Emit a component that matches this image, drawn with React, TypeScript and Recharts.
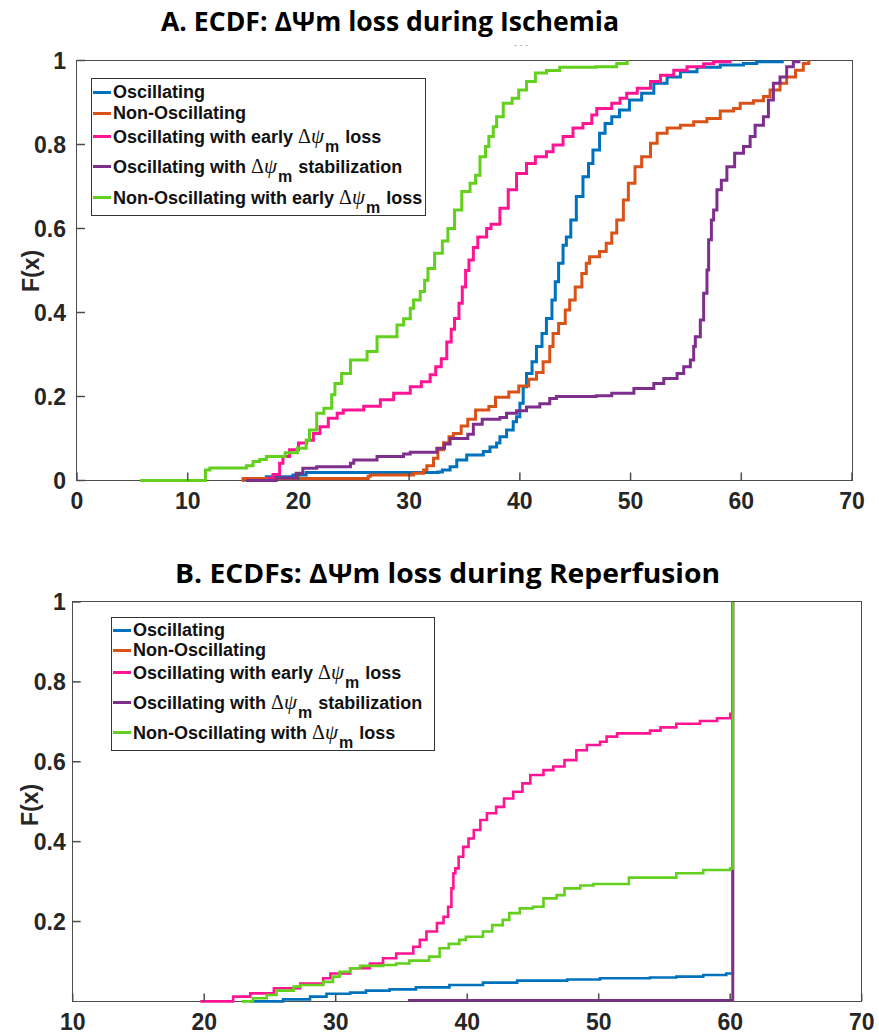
import React from 'react';
import { LineChart, Line, XAxis, YAxis } from 'recharts';

// colours used by the five groups
const BLUE = '#0072BD';
const ORANGE = '#D95319';
const PINK = '#FF1493';
const PURPLE = '#7E2F8E';
const GREEN = '#62D01C';
const AXIS = '#4d4d4d';

// ---- A. ischemia ECDFs (x = time, F = cumulative fraction) ----
const oscillatingA = [
  [15.2, 0], [17.1, 0.009], [19.5, 0.013], [20.7, 0.019], [32.6, 0.02], [33.0, 0.025], [33.7, 0.033],
  [34.3, 0.049], [35.2, 0.061], [36.7, 0.069], [37.3, 0.08], [37.9, 0.089], [38.2, 0.104], [38.8, 0.12],
  [39.4, 0.14], [39.7, 0.152], [40.0, 0.184], [40.3, 0.223], [40.6, 0.255], [41.1, 0.283], [41.5, 0.319],
  [42.0, 0.35], [42.4, 0.386], [42.9, 0.43], [43.2, 0.473], [43.5, 0.517], [43.9, 0.56], [44.2, 0.58],
  [44.6, 0.62], [45.1, 0.676], [45.7, 0.723], [46.2, 0.755], [46.6, 0.787], [47.2, 0.827], [47.7, 0.85],
  [48.3, 0.866], [49.0, 0.882], [49.9, 0.906], [51.0, 0.922], [52.1, 0.946], [53.3, 0.961], [54.5, 0.973],
  [56.0, 0.984], [58.1, 0.989], [60.2, 0.993], [61.4, 0.997], [63.7, 1],
];
const nonOscillatingA = [
  [14.9, 0], [15.0, 0.005], [26.3, 0.01], [26.5, 0.013], [30.4, 0.017], [31.3, 0.025], [31.6, 0.035],
  [32.2, 0.053], [32.6, 0.073], [33.1, 0.09], [33.6, 0.104], [34.0, 0.112], [34.7, 0.13], [35.3, 0.146],
  [36.0, 0.168], [37.2, 0.176], [37.8, 0.198], [39.0, 0.211], [39.9, 0.225], [40.8, 0.241], [41.5, 0.257],
  [42.1, 0.283], [42.7, 0.319], [43.0, 0.35], [43.5, 0.374], [44.1, 0.406], [44.5, 0.43], [45.0, 0.461],
  [45.6, 0.493], [46.0, 0.517], [46.3, 0.533], [47.2, 0.545], [47.8, 0.565], [48.3, 0.589], [48.75, 0.62],
  [49.35, 0.668], [49.8, 0.708], [50.4, 0.747], [51.0, 0.771], [51.8, 0.803], [52.4, 0.827], [53.3, 0.839],
  [54.5, 0.846], [55.7, 0.854], [56.9, 0.862], [58.1, 0.88], [59.3, 0.886], [59.9, 0.898], [61.1, 0.904],
  [62.0, 0.914], [62.6, 0.93], [63.5, 0.946], [64.1, 0.961], [64.9, 0.977], [65.6, 0.993], [66.1, 1],
];
const earlyLossA = [
  [17.1, 0], [17.4, 0.006], [17.7, 0.014], [18.3, 0.041], [18.6, 0.057], [19.2, 0.073], [20.0, 0.089],
  [20.75, 0.096], [21.35, 0.112], [21.95, 0.128], [22.7, 0.148], [23.5, 0.16], [24.05, 0.168], [25.9, 0.177],
  [27.4, 0.192], [28.6, 0.208], [30.1, 0.223], [31.1, 0.235], [31.9, 0.252], [32.4, 0.271], [32.9, 0.29],
  [33.4, 0.33], [33.8, 0.36], [34.1, 0.386], [34.5, 0.422], [34.8, 0.461], [35.1, 0.5], [35.4, 0.525],
  [35.8, 0.555], [36.2, 0.58], [37.0, 0.6], [37.4, 0.61], [38.2, 0.648], [38.95, 0.692], [39.7, 0.731],
  [40.6, 0.755], [41.4, 0.771], [42.4, 0.783], [43.0, 0.799], [43.9, 0.819], [44.8, 0.839], [45.7, 0.85],
  [46.5, 0.87], [46.95, 0.886], [48.3, 0.898], [49.05, 0.91], [49.65, 0.922], [50.6, 0.934], [51.8, 0.95],
  [52.7, 0.965], [53.9, 0.977], [55.1, 0.985], [56.6, 0.992], [57.5, 0.997], [59.0, 1],
];
const stabilizationA = [
  [15.3, 0], [18.0, 0.006], [19.8, 0.017], [20.4, 0.029], [21.65, 0.033], [24.7, 0.041], [25.0, 0.049],
  [27.1, 0.057], [29.5, 0.063], [30.1, 0.067], [32.5, 0.077], [33.2, 0.087], [33.7, 0.1], [35.3, 0.11],
  [35.8, 0.134], [36.6, 0.146], [38.2, 0.15], [38.8, 0.16], [39.7, 0.166], [40.6, 0.175], [41.8, 0.183],
  [42.7, 0.195], [43.3, 0.2], [46.9, 0.202], [48.3, 0.208], [50.3, 0.219], [52.1, 0.231], [53.0, 0.243],
  [54.2, 0.255], [54.8, 0.271], [55.4, 0.287], [55.7, 0.319], [55.85, 0.342], [56.3, 0.382], [56.6, 0.446],
  [56.9, 0.501], [57.05, 0.573], [57.3, 0.62], [57.5, 0.644], [57.8, 0.692], [58.2, 0.715], [58.7, 0.747],
  [59.4, 0.779], [60.2, 0.795], [60.8, 0.819], [61.25, 0.846], [62.0, 0.866], [62.45, 0.906], [62.9, 0.946],
  [63.5, 0.961], [64.1, 0.985], [64.7, 0.997], [65.2, 1],
];
const nonOscEarlyLossA = [
  [5.7, 0], [11.6, 0.025], [12.0, 0.03], [15.3, 0.035], [15.9, 0.045], [16.5, 0.05], [17.1, 0.057],
  [18.8, 0.066], [19.9, 0.077], [20.7, 0.096], [21.0, 0.12], [21.65, 0.16], [22.3, 0.172], [23.0, 0.204],
  [23.3, 0.231], [23.9, 0.255], [24.7, 0.287], [26.2, 0.307], [27.1, 0.342], [28.9, 0.37], [29.5, 0.385],
  [30.1, 0.41], [30.4, 0.43], [31.0, 0.45], [31.4, 0.477], [31.7, 0.505], [32.3, 0.541], [33.0, 0.57],
  [33.5, 0.6], [34.1, 0.644], [34.75, 0.688], [35.5, 0.708], [36.0, 0.727], [36.4, 0.771], [36.9, 0.795],
  [37.2, 0.819], [37.6, 0.842], [37.9, 0.866], [38.5, 0.898], [39.3, 0.91], [39.9, 0.93], [40.6, 0.95],
  [41.4, 0.97], [42.4, 0.976], [43.6, 0.984], [46.9, 0.985], [48.75, 0.993], [49.7, 1],
];

// ---- B. reperfusion ECDFs ----
const oscillatingB = [
  [23.5, 0], [26.0, 0.005], [28.05, 0.012], [29.3, 0.019], [31.1, 0.022], [32.3, 0.027], [34.1, 0.03],
  [36.1, 0.035], [38.65, 0.041], [41.2, 0.047], [43.8, 0.052], [47.6, 0.055], [50.1, 0.058], [53.9, 0.06],
  [55.9, 0.062], [57.95, 0.066], [59.7, 0.07], [60.2, 1],
];
const nonOscillatingB = [[60.2, 0], [60.2, 1]];
const earlyLossB = [
  [19.7, 0], [22.2, 0.012], [23.5, 0.02], [25.3, 0.033], [27.3, 0.045], [29.05, 0.058], [29.6, 0.07],
  [31.1, 0.083], [32.6, 0.095], [33.6, 0.108], [34.6, 0.12], [35.9, 0.137], [36.4, 0.154], [36.9, 0.175],
  [37.7, 0.196], [38.2, 0.212], [38.55, 0.237], [38.8, 0.283], [38.95, 0.321], [39.1, 0.333], [39.35, 0.362],
  [39.7, 0.387], [40.1, 0.408], [40.5, 0.429], [41.0, 0.454], [41.5, 0.471], [42.2, 0.487], [42.8, 0.508],
  [43.5, 0.525], [44.2, 0.546], [44.8, 0.567], [45.8, 0.579], [46.55, 0.588], [47.4, 0.604], [48.3, 0.629],
  [49.1, 0.642], [50.1, 0.65], [50.6, 0.663], [51.4, 0.671], [53.9, 0.678], [54.7, 0.686], [55.9, 0.695],
  [57.7, 0.702], [59.0, 0.709], [60.0, 0.72], [60.2, 1],
];
const stabilizationB = [[35.5, 0.003], [60.2, 0.003], [60.2, 1]];
const nonOscLossB = [
  [22.85, 0], [23.7, 0.008], [24.75, 0.016], [25.5, 0.027], [26.8, 0.037], [27.3, 0.041], [29.05, 0.049],
  [29.8, 0.062], [30.3, 0.074], [31.1, 0.083], [31.85, 0.089], [33.6, 0.091], [34.6, 0.095], [35.6, 0.102],
  [37.1, 0.112], [37.9, 0.133], [38.6, 0.144], [39.4, 0.154], [39.9, 0.162], [41.2, 0.175], [41.9, 0.191],
  [42.7, 0.204], [43.2, 0.221], [44.0, 0.233], [45.0, 0.237], [45.8, 0.258], [46.8, 0.266], [47.4, 0.283],
  [48.6, 0.29], [49.6, 0.294], [52.3, 0.31], [55.9, 0.321], [57.95, 0.329], [60.0, 0.333], [60.2, 1],
];

// ticks
const xTicksA = [0, 10, 20, 30, 40, 50, 60, 70];
const yTicksA = [0, 0.2, 0.4, 0.6, 0.8, 1];
const xTicksB = [10, 20, 30, 40, 50, 60, 70];
const yTicksB = [0.2, 0.4, 0.6, 0.8, 1];

// legend names ({psi} = Δψm)
const namesA = [
  'Oscillating',
  'Non-Oscillating',
  'Oscillating with early {psi} loss',
  'Oscillating with {psi} stabilization',
  'Non-Oscillating with early {psi} loss',
];
const namesB = [
  'Oscillating',
  'Non-Oscillating',
  'Oscillating with early {psi} loss',
  'Oscillating with {psi} stabilization',
  'Non-Oscillating with {psi} loss',
];
const colors = [BLUE, ORANGE, PINK, PURPLE, GREEN];

const toPts = (arr: number[][]) => arr.map(([x, F]) => ({ x, F }));

const TM_X = 12;
const TICK_LEN = 8;
const Y_AXIS_W = 40;
const tickFont = { fontFamily: '"Liberation Sans", Arial, sans-serif', fontWeight: 700, fontSize: 23, fill: '#262626' };

const makeBottomTick = (tm: number) => (props: any) => {
  const { x, y, payload } = props;
  return (
    <g>
      <line x1={x} x2={x} y1={y - tm} y2={y - tm - TICK_LEN} stroke={AXIS} strokeWidth={1.5} />
      <text x={x} y={y} dy="0.71em" textAnchor="middle" {...tickFont}>{payload.value}</text>
    </g>
  );
};
const makeLeftTick = (tm: number) => (props: any) => {
  const { x, y, payload } = props;
  return (
    <g>
      <line x1={x + tm} x2={x + tm + TICK_LEN} y1={y} y2={y} stroke={AXIS} strokeWidth={1.5} />
      <text x={x} y={y} dy="0.36em" textAnchor="end" {...tickFont}>{payload.value}</text>
    </g>
  );
};
const TopTick = (props: any) => (
  <line x1={props.x} x2={props.x} y1={props.y} y2={props.y + TICK_LEN} stroke={AXIS} strokeWidth={1.5} />
);
const RightTick = (props: any) => (
  <line x1={props.x} x2={props.x - TICK_LEN} y1={props.y} y2={props.y} stroke={AXIS} strokeWidth={1.5} />
);

const serif = '"Liberation Serif", "DejaVu Serif", serif';
const Psi: React.FC = () => (
  <>
    <span style={{ fontFamily: serif, fontWeight: 400, fontSize: 20 }}>Δ</span>
    <span style={{ fontFamily: serif, fontWeight: 400, fontStyle: 'italic', fontSize: 21 }}>ψ</span>
    <span style={{ fontSize: 16, position: 'relative', top: 9, marginLeft: 1, marginRight: 1 }}>m</span>
  </>
);

const LegendBox: React.FC<{ names: string[]; left: number; top: number; width: number; height: number; rows: number[]; textLeft: number }> = ({ names, left, top, width, height, rows, textLeft }) => (
  <div
    style={{
      position: 'absolute', left, top, width, height, border: '1.5px solid #333', background: '#fff',
      boxSizing: 'border-box', fontFamily: '"Liberation Sans", Arial, sans-serif', fontWeight: 700, fontSize: 18, color: '#111',
    }}
  >
    {names.map((n, i) => {
      const parts = n.split('{psi}');
      return (
        <div key={n} style={{ position: 'absolute', left: 0, top: rows[i] - 10, height: 20, whiteSpace: 'nowrap', lineHeight: '20px' }}>
          <div style={{ position: 'absolute', left: 1, top: 9, width: textLeft - 3, height: 3, background: colors[i] }} />
          <span style={{ position: 'absolute', left: textLeft }}>
            {parts[0]}
            {parts.length > 1 && <Psi />}
            {parts[1]}
          </span>
        </div>
      );
    })}
  </div>
);

interface PanelProps {
  height: number;
  xAxisHeight: number;
  margin: { top: number; right: number; bottom: number; left: number };
  xDomain: [number, number];
  xTicks: number[];
  yTicks: number[];
  series: number[][][];
  strokeWidth: number;
  yTm: number;
  order: number[];
}

const Panel: React.FC<PanelProps> = ({ height, xAxisHeight, margin, xDomain, xTicks, yTicks, series, strokeWidth, yTm, order }) => {
  // plot box, drawn as a frame behind the svg so the curves sit on top of it
  const boxLeft = margin.left + Y_AXIS_W;
  const boxTop = margin.top + 1;
  const boxW = 879 - boxLeft - margin.right - 1;
  const boxH = height - boxTop - margin.bottom - xAxisHeight;
  return (
    <div style={{ position: 'relative', width: 879, height }}>
      <div
        style={{
          position: 'absolute', left: boxLeft - 0.75, top: boxTop - 0.75, width: boxW + 1.5, height: boxH + 1.5,
          border: `1.5px solid ${AXIS}`, boxSizing: 'border-box',
        }}
      />
      <div style={{ position: 'absolute', left: 0, top: 0 }}>
        <LineChart width={879} height={height} margin={margin}>
          <XAxis
            dataKey="x" type="number" domain={xDomain} ticks={xTicks} interval={0}
            height={xAxisHeight} tickSize={0} tickMargin={TM_X} tickLine={false} axisLine={false}
            tick={makeBottomTick(TM_X)}
          />
          <XAxis
            xAxisId="t" orientation="top" type="number" domain={xDomain} ticks={xTicks} interval={0}
            height={1} tickSize={0} tickMargin={0} tickLine={false} axisLine={false} tick={TopTick}
          />
          <YAxis
            type="number" domain={[0, 1]} ticks={yTicks} interval={0}
            width={Y_AXIS_W} tickSize={0} tickMargin={yTm} tickLine={false} axisLine={false}
            tick={makeLeftTick(yTm)}
          />
          <YAxis
            yAxisId="r" orientation="right" type="number" domain={[0, 1]} ticks={yTicks} interval={0}
            width={1} tickSize={0} tickMargin={0} tickLine={false} axisLine={false} tick={RightTick}
          />
          {order.map((i) => (
            <Line
              key={i}
              data={toPts(series[i])}
              dataKey="F"
              type="stepAfter"
              stroke={colors[i]}
              strokeWidth={strokeWidth}
              dot={false}
              isAnimationActive={false}
            />
          ))}
        </LineChart>
      </div>
    </div>
  );
};

const App: React.FC = () => {
  const seriesA = [oscillatingA, nonOscillatingA, earlyLossA, stabilizationA, nonOscEarlyLossA];
  const seriesB = [oscillatingB, nonOscillatingB, earlyLossB, stabilizationB, nonOscLossB];
  const titleFont = { fontFamily: '"Open Sans", sans-serif', fontWeight: 700, fontSize: 26, fill: '#000' };
  const labelFont = { fontFamily: '"Liberation Sans", Arial, sans-serif', fontWeight: 700, fontSize: 23, fill: '#262626' };

  return (
    <div style={{ position: 'absolute', left: 0, top: 0, width: 879, height: 1034, background: '#fff', overflow: 'hidden' }}>
      <div style={{ position: 'absolute', left: 0, top: 0 }}>
        <Panel
          height={540} xAxisHeight={40}
          margin={{ top: 59.5, right: 26, bottom: 19.5, left: 37 }}
          xDomain={[0, 70]} xTicks={xTicksA} yTicks={yTicksA}
          series={seriesA} strokeWidth={3} yTm={11} order={[0, 1, 2, 3, 4]}
        />
      </div>
      <div style={{ position: 'absolute', left: 0, top: 540 }}>
        <Panel
          height={494} xAxisHeight={30}
          margin={{ top: 61, right: 16.3, bottom: 2.6, left: 32.7 }}
          xDomain={[10, 70]} xTicks={xTicksB} yTicks={yTicksB}
          series={seriesB} strokeWidth={2.6} yTm={7} order={[1, 0, 2, 3, 4]}
        />
      </div>

      <svg width={879} height={1034} style={{ position: 'absolute', left: 0, top: 0, pointerEvents: 'none' }}>
        <text x={161} y={31} textLength={458} lengthAdjust="spacingAndGlyphs" {...titleFont}>A. ECDF: ΔΨm loss during Ischemia</text>
        <text x={175} y={583} textLength={545} lengthAdjust="spacingAndGlyphs" {...titleFont}>B. ECDFs: ΔΨm loss during Reperfusion</text>
        <text transform="translate(39,271) rotate(-90)" textAnchor="middle" {...labelFont}>F(x)</text>
        <text transform="translate(38,805) rotate(-90)" textAnchor="middle" {...labelFont}>F(x)</text>
        <text x={521} y={48} textAnchor="middle" fontSize={9} fill="#999" fontFamily="sans-serif">- - -</text>
      </svg>

      <LegendBox names={namesA} left={91} top={78} width={335} height={138} rows={[12.5, 34, 57, 87, 117.5]} textLeft={21} />
      <LegendBox names={namesB} left={111} top={617} width={324} height={134} rows={[11.5, 32, 54, 84, 114]} textLeft={21} />
    </div>
  );
};

export default App;
